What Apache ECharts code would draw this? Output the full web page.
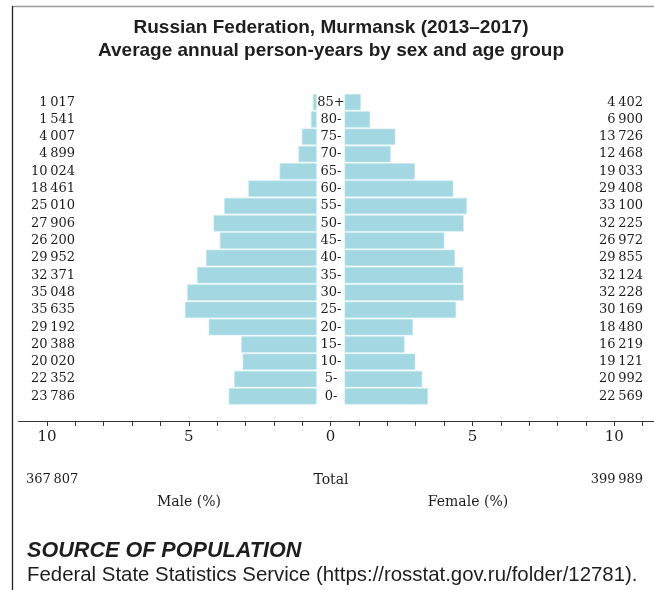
<!DOCTYPE html>
<html><head><meta charset="utf-8">
<script src="https://cdn.jsdelivr.net/npm/echarts@6/dist/echarts.min.js"></script>
<style>html,body{margin:0;padding:0;background:#fff}#c{width:654px;height:590px}</style>
</head><body><div id="c"></div>
<script>
// ---- data ----
const ageGroups = ['0-','5-','10-','15-','20-','25-','30-','35-','40-','45-','50-','55-','60-','65-','70-','75-','80-','85+'];
const maleCounts = [23786,22352,20020,20388,29192,35635,35048,32371,29952,26200,27906,25010,18461,10024,4899,4007,1541,1017];
const femaleCounts = [22569,20992,19121,16219,18480,30169,32228,32124,29855,26972,32225,33100,29408,19033,12468,13726,6900,4402];
const maleTotal = 367807;
const femaleTotal = 399989;
const tickValues = [-10,-9,-8,-7,-6,-5,-4,-3,-2,-1,0,1,2,3,4,5,6,7,8,9,10,11];
const tickLabelValues = [-10,-5,0,5,10];
const centreGap = 0.493; // half-width of the central age-label gap, in axis units

const grandTotal = maleTotal + femaleTotal;
const malePct = maleCounts.map(v => -v / grandTotal * 100);
const femalePct = femaleCounts.map(v => v / grandTotal * 100);
const fmt = n => String(n).replace(/\B(?=(\d{3})+(?!\d))/g, '\u2009');

const SERIF = '"DejaVu Serif", serif';
const SANS = '"Liberation Sans", Arial, sans-serif';
const TXT = '#1e1e1e';

const chart = echarts.init(document.getElementById('c'), null, {renderer: 'canvas'});
const GL = 18.6, GW = 636.2, GT = 93.5, GB = 405;
const barStyle = {color: '#a3d8e3', borderColor: '#c4e8ee', borderWidth: 0.6};
const common = {type: 'bar', yAxisIndex: 0, barCategoryGap: '6%', barGap: '-100%'};

chart.setOption({
  animation: false,
  backgroundColor: '#fff',
  title: [
    {text: 'Russian Federation, Murmansk (2013\u20132017)\nAverage annual person-years by sex and age group',
     left: 331, top: 16.5, textAlign: 'center', padding: 0,
     textStyle: {fontFamily: SANS, fontWeight: 'bold', fontSize: 19, lineHeight: 23, color: TXT}},
    {text: 'SOURCE OF POPULATION', left: 27, top: 540, padding: 0,
     textStyle: {fontFamily: SANS, fontWeight: 'bold', fontStyle: 'italic', fontSize: 21.6, color: TXT}},
    {text: 'Federal State Statistics Service (https://rosstat.gov.ru/folder/12781).', left: 27, top: 565, padding: 0,
     textStyle: {fontFamily: SANS, fontWeight: 'normal', fontSize: 20.4, color: TXT}}
  ],
  grid: {left: GL, width: GW, top: GT, height: GB - GT, containLabel: false},
  xAxis: {
    type: 'value', min: -11, max: 11.4, position: 'bottom', offset: 16,
    axisLine: {show: true, onZero: false, lineStyle: {color: '#333', width: 1}},
    axisTick: {show: true, length: 5, customValues: tickValues, lineStyle: {color: '#333'}},
    axisLabel: {show: true, customValues: tickLabelValues, margin: 9,
      formatter: v => String(Math.abs(v)), fontFamily: SERIF, fontSize: 15, color: TXT},
    splitLine: {show: false}
  },
  yAxis: [
    {type: 'category', data: ageGroups, position: 'left', offset: GL - 331,
     axisLine: {show: false}, axisTick: {show: false},
     axisLabel: {align: 'center', margin: 0, fontFamily: SERIF, fontSize: 13, color: TXT}},
    {type: 'category', data: maleCounts.map(fmt), position: 'left', offset: GL - 75,
     axisLine: {show: false}, axisTick: {show: false},
     axisLabel: {align: 'right', margin: 0, fontFamily: SERIF, fontSize: 13, color: TXT}},
    {type: 'category', data: femaleCounts.map(fmt), position: 'left', offset: GL - 643,
     axisLine: {show: false}, axisTick: {show: false},
     axisLabel: {align: 'right', margin: 0, fontFamily: SERIF, fontSize: 13, color: TXT}}
  ],
  series: [
    Object.assign({}, common, {stack: 'm', silent: true,
      data: ageGroups.map(() => -centreGap), itemStyle: {color: 'transparent'}}),
    Object.assign({}, common, {stack: 'm', name: 'Male', data: malePct, itemStyle: barStyle}),
    Object.assign({}, common, {stack: 'f', silent: true,
      data: ageGroups.map(() => centreGap), itemStyle: {color: 'transparent'}}),
    Object.assign({}, common, {stack: 'f', name: 'Female', data: femalePct, itemStyle: barStyle})
  ],
  graphic: [
    {type: 'line', shape: {x1: 12, y1: 6.5, x2: 654, y2: 6.5}, style: {stroke: '#9a9a9a', lineWidth: 1.6}},
    {type: 'line', shape: {x1: 12.5, y1: 6, x2: 12.5, y2: 590}, style: {stroke: '#222', lineWidth: 1.3}},
    {type: 'text', x: 26, y: 480, style: {text: fmt(maleTotal), font: '13px ' + SERIF, fill: TXT, align: 'left', verticalAlign: 'middle'}},
    {type: 'text', x: 331, y: 480, style: {text: 'Total', font: '14px ' + SERIF, fill: TXT, align: 'center', verticalAlign: 'middle'}},
    {type: 'text', x: 643, y: 480, style: {text: fmt(femaleTotal), font: '13px ' + SERIF, fill: TXT, align: 'right', verticalAlign: 'middle'}},
    {type: 'text', x: 189, y: 502.5, style: {text: 'Male (%)', font: '14px ' + SERIF, fill: TXT, align: 'center', verticalAlign: 'middle'}},
    {type: 'text', x: 468, y: 502.5, style: {text: 'Female (%)', font: '14px ' + SERIF, fill: TXT, align: 'center', verticalAlign: 'middle'}}
  ]
});
</script></body></html>
